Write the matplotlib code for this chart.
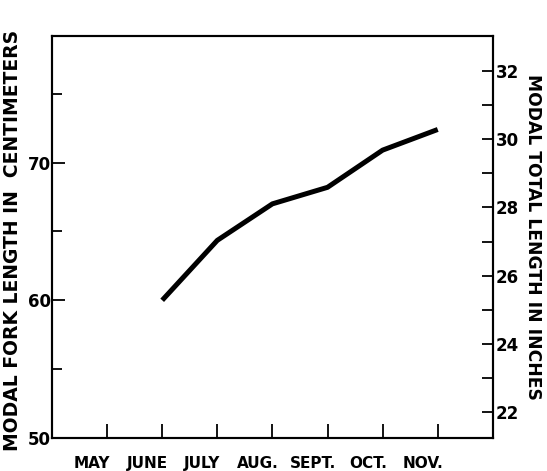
import numpy as np
import matplotlib
matplotlib.use('Agg')
import matplotlib.pyplot as plt

# months along the bottom, May is empty
months = ['MAY', 'JUNE', 'JULY', 'AUG.', 'SEPT.', 'OCT.', 'NOV.']
# modal fork length (cm), June..Nov
fork_cm = [60.0, 64.35, 67.0, 68.2, 70.9, 72.4]
left_major = [50, 60, 70]
left_minor = [55, 65, 75]
right_major = [22, 24, 26, 28, 30, 32]
right_minor = [23, 25, 27, 29, 31]

plt.rcParams['font.family'] = ['DejaVu Sans']
plt.rcParams['font.weight'] = 'bold'

fig = plt.figure(figsize=(5.47, 4.71), dpi=100)
ax = fig.add_axes([0.095, 0.070, 0.806, 0.854])

x = np.arange(len(months))
ax.plot(x[1:], fork_cm, color='black', lw=3.6, solid_capstyle='butt', solid_joinstyle='round')

ax.set_xlim(-1, 7)
ax.set_ylim(50, 79.2)

# ticks on the month marks, names printed a bit left of them
ax.set_xticks(x)
ax.set_xticklabels([])
ax.set_xticks(x - 0.27, minor=True)
ax.set_xticklabels(months, minor=True, fontsize=11, fontweight='bold')
ax.tick_params(axis='x', which='major', direction='in', length=10, width=1.3)
ax.tick_params(axis='x', which='minor', length=0, pad=13)

ax.set_yticks(left_major)
ax.set_yticklabels([str(v) for v in left_major], fontsize=12)
ax.set_yticks(left_minor, minor=True)
ax.tick_params(axis='y', which='major', direction='in', length=9, width=1.3, pad=1)
ax.tick_params(axis='y', which='minor', direction='in', length=7, width=1.3)
ax.set_ylabel('MODAL FORK LENGTH IN  CENTIMETERS', fontsize=13.5, fontweight='bold', va='center')
ax.yaxis.set_label_coords(-0.09, 0.49)

for s in ax.spines.values():
    s.set_linewidth(1.5)

ax2 = ax.twinx()
ax2.set_ylim(21.24, 33.03)
ax2.set_yticks(right_major)
ax2.set_yticklabels([str(v) for v in right_major], fontsize=12)
ax2.set_yticks(right_minor, minor=True)
ax2.tick_params(axis='y', which='both', direction='in', length=8, width=1.3, pad=2)
ax2.set_ylabel('MODAL TOTAL LENGTH IN INCHES', fontsize=12.3, fontweight='bold', rotation=-90, va='center')
ax2.yaxis.set_label_coords(1.09, 0.5)
for s in ax2.spines.values():
    s.set_linewidth(1.5)

fig.savefig('out.png', dpi=100)
